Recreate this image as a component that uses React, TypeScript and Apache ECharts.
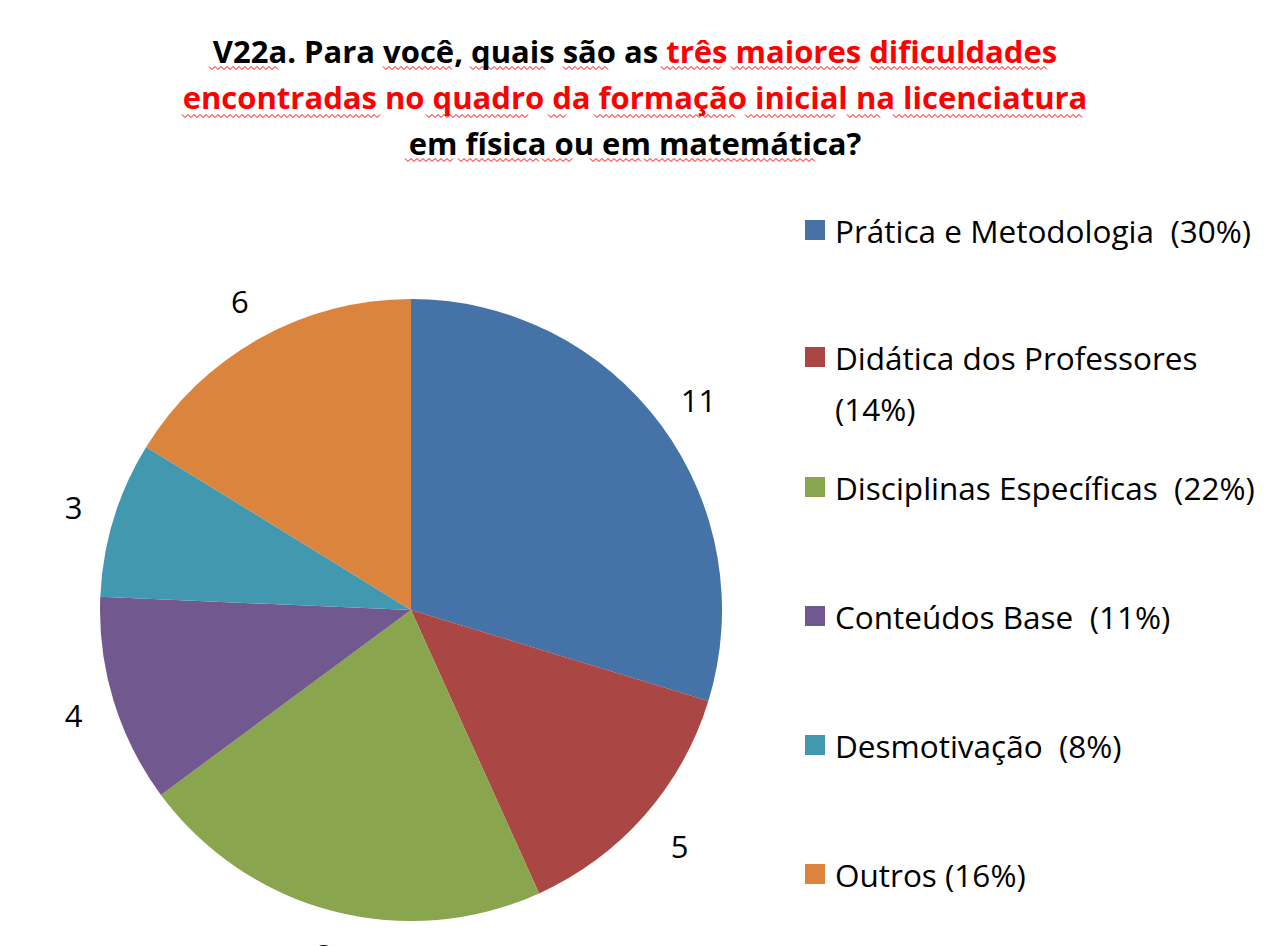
import React, { useEffect, useRef } from "react";
import * as echarts from "echarts";

const categories = [
  "Prática e Metodologia",
  "Didática dos Professores",
  "Disciplinas Específicas",
  "Conteúdos Base",
  "Desmotivação",
  "Outros",
];
const counts = [11, 5, 8, 4, 3, 6];
const percents = ["30%", "14%", "22%", "11%", "8%", "16%"];
const separators = ["  ", "\n", "  ", "  ", "  ", " "];
const colors = ["#4572A7", "#AA4643", "#89A54E", "#71588F", "#4198AF", "#DB843D"];
const legendCenters = [230, 357, 487, 616, 745, 874];

// spell-check wavy underlines under title words: [y, x0, x1]
const squiggles: [number, number, number][] = [
  [68, 209, 279], [68, 383, 452], [68, 470, 545], [68, 563, 609],
  [68, 661, 722], [68, 731, 858], [68, 870, 1047],
  [116, 182, 380], [116, 426, 528], [116, 548, 568], [116, 594, 737],
  [116, 745, 835], [116, 847, 881], [116, 893, 1082],
  [160, 405, 455], [160, 458, 539], [160, 542, 574], [160, 590, 641],
  [160, 644, 815],
];

const FONT = "Open Sans";

export default function App() {
  const ref = useRef<HTMLDivElement>(null);
  useEffect(() => {
    document.body.style.margin = "0";
    const chart = echarts.init(ref.current!, undefined, { renderer: "svg" });
    const LH = 51;
    const legends = categories.map((name, i) => {
      const twoLine = separators[i] === "\n";
      const label = `${name}${separators[i]}(${percents[i]})`;
      return {
        show: true,
        orient: "vertical",
        left: 805,
        top: legendCenters[i] - LH / 2,
        padding: 0,
        selectedMode: false,
        itemWidth: 20,
        itemHeight: twoLine ? 20 + LH : 20,
        itemStyle: { borderWidth: 0 },
        icon: twoLine ? "path://M0,0L20,0L20,20L0,20Z M0,71L20,71" : "rect",
        data: [name],
        formatter: () => label,
        textStyle: {
          fontFamily: FONT,
          fontSize: 31.5,
          lineHeight: LH,
          color: "#000",
          padding: [0, 0, 0, 5],
        },
      };
    });
    const pieData = categories.map((name, i) => ({
      name,
      value: counts[i],
      itemStyle: { color: colors[i] },
    }));
    const squiggleGraphics = squiggles.map(([y, x0, x1]) => {
      const pts: number[][] = [];
      let k = 0;
      for (let x = x0; x <= x1; x += 3, k++) pts.push([x, y + (k % 2 === 0 ? -1.5 : 1.5)]);
      return {
        type: "polyline",
        silent: true,
        shape: { points: pts },
        style: { stroke: "#ff0000", lineWidth: 1, fill: null },
      };
    });
    chart.setOption({
      animation: false,
      backgroundColor: "#fff",
      title: {
        left: 630,
        top: 23,
        textAlign: "center",
        text:
          "{b|V22a. Para você, quais são as }{r|três maiores dificuldades}\n" +
          "{r|encontradas no quadro da formação inicial na licenciatura}\n" +
          "{b|em física ou em matemática?}",
        textStyle: {
          fontFamily: FONT,
          fontWeight: "bold",
          fontSize: 31,
          lineHeight: 46,
          rich: {
            b: { fontFamily: FONT, fontWeight: "bold", fontSize: 31, lineHeight: 46, color: "#000" },
            r: { fontFamily: FONT, fontWeight: "bold", fontSize: 31, lineHeight: 46, color: "#ff0000" },
          },
        },
      },
      legend: legends,
      graphic: squiggleGraphics,
      series: [
        {
          type: "pie",
          center: [411, 610],
          radius: 311,
          startAngle: 90,
          clockwise: true,
          silent: true,
          label: { show: false },
          labelLine: { show: false },
          itemStyle: { borderWidth: 0 },
          data: pieData,
        },
        {
          type: "pie",
          center: [413, 611],
          radius: [332, 372],
          startAngle: 90,
          clockwise: true,
          silent: true,
          label: {
            show: true,
            position: "inside",
            formatter: "{c}",
            fontFamily: FONT,
            fontSize: 31,
            color: "#000",
          },
          labelLine: { show: false },
          itemStyle: { color: "rgba(0,0,0,0)", borderWidth: 0 },
          data: categories.map((name, i) => ({ name, value: counts[i] })),
        },
      ],
    });
    return () => chart.dispose();
  }, []);
  return (
    <div
      ref={ref}
      style={{ position: "absolute", left: 0, top: 0, width: 1264, height: 946 }}
    />
  );
}
